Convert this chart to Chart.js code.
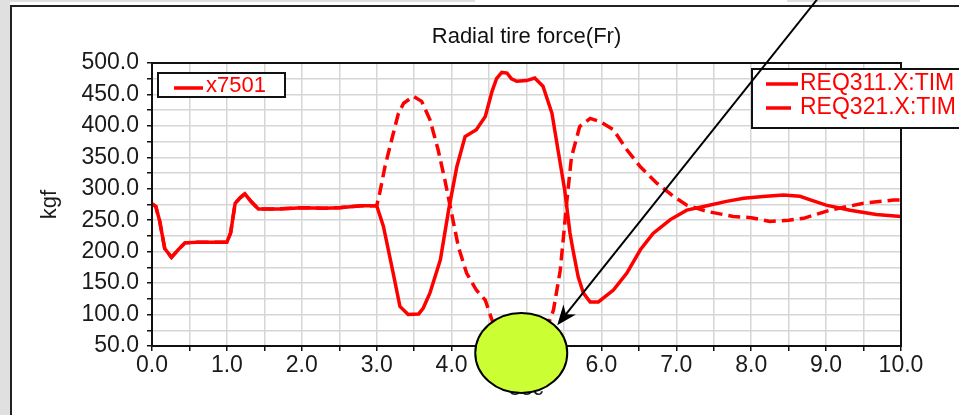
<!DOCTYPE html>
<html>
<head>
<meta charset="utf-8">
<script src="https://cdn.jsdelivr.net/npm/chart.js@4.4.0/dist/chart.umd.min.js"></script>
<style>
  html, body { margin: 0; padding: 0; background: #fff; }
  #wrap { width: 959px; height: 415px; }
</style>
</head>
<body>
<div id="wrap"><canvas id="myChart" width="959" height="415"></canvas></div>
<script>
// values (time in sec, force in kgf)
const chartTitle = 'Radial tire force(Fr)';
const yTitle = 'kgf';
const xTitle = 'sec';
const groupLabel = 'x7501';
const seriesNames = ['REQ311.X:TIM', 'REQ321.X:TIM'];

const t311 = [0.00, 0.05, 0.10, 0.17, 0.26, 0.35, 0.44, 0.60, 0.80, 1.00, 1.05, 1.11, 1.18, 1.24, 1.32, 1.42,
  1.70, 2.00, 2.30, 2.50, 2.80, 3.00, 3.09, 3.22, 3.31, 3.42, 3.56, 3.62, 3.71, 3.85, 3.96, 4.07, 4.18, 4.33,
  4.45, 4.54, 4.60, 4.67, 4.74, 4.80, 4.87, 5.00, 5.11, 5.22, 5.34, 5.42, 5.51, 5.58, 5.62, 5.69, 5.76, 5.85,
  5.96, 6.16, 6.34, 6.52, 6.69, 6.92, 7.14, 7.41, 7.67, 7.90, 8.20, 8.43, 8.65, 8.85, 9.00, 9.32, 9.67, 10.00];
const f311 = [276, 272, 250, 205, 191, 203, 214, 215, 215, 215, 230, 277, 286, 292, 280, 268,
  268, 270, 269, 270, 273, 273, 240, 166, 113, 100, 101, 110, 134, 187, 266, 335, 383, 394,
  415, 455, 475, 485, 484, 475, 471, 472, 476, 463, 420, 362, 298, 230, 203, 160, 134, 120,
  120, 139, 166, 203, 229, 251, 266, 273, 280, 285, 288, 290, 288, 280, 274, 266, 259, 256];

const t321 = [0.00, 0.05, 0.10, 0.17, 0.26, 0.35, 0.44, 0.60, 0.80, 1.00, 1.05, 1.11, 1.18, 1.24, 1.32, 1.42,
  1.70, 2.00, 2.30, 2.50, 2.80, 3.00, 3.04, 3.11, 3.20, 3.29, 3.36, 3.49, 3.60, 3.71, 3.82, 3.91, 4.00, 4.09,
  4.20, 4.33, 4.45, 4.54, 4.65, 4.80, 5.00, 5.20, 5.36, 5.45, 5.49, 5.54, 5.60, 5.71, 5.85, 5.98, 6.16, 6.34,
  6.52, 6.74, 6.96, 7.14, 7.41, 7.76, 8.00, 8.25, 8.50, 8.70, 9.05, 9.50, 9.90, 10.00];
const f321 = [276, 272, 250, 205, 191, 203, 214, 215, 215, 215, 230, 277, 286, 292, 280, 268,
  268, 270, 269, 270, 273, 273, 293, 335, 378, 420, 436, 447, 439, 410, 362, 314, 261, 208,
  166, 139, 123, 91, 60, 42, 40, 55, 107, 170, 219, 282, 350, 399, 412, 407, 394, 362,
  335, 309, 288, 274, 264, 256, 254, 248, 250, 253, 266, 277, 282, 282];

const yTicks = { min: 50, max: 500, step: 25, labelEvery: 50 };
const xTicks = { min: 0, max: 10, step: 0.5, labelEvery: 1 };

const FONT = '"Liberation Sans", Arial, sans-serif';
const RED = '#ff0000';

function toPoints(xs, ys) {
  return xs.map((x, i) => ({ x: x, y: ys[i] }));
}

const decorations = {
  id: 'decorations',
  beforeDraw(chart) {
    const ctx = chart.ctx;
    ctx.save();
    ctx.fillStyle = '#fff';
    ctx.fillRect(0, 0, chart.width, chart.height);
    ctx.fillStyle = '#e0e0e0';
    ctx.fillRect(0, 0, 10, chart.height);
    ctx.fillRect(10, 0, 465, 2);
    ctx.fillRect(787, 0, 133, 2);
    ctx.strokeStyle = '#222';
    ctx.lineWidth = 2;
    ctx.beginPath();
    ctx.moveTo(11, chart.height);
    ctx.lineTo(11, 6);
    ctx.lineTo(chart.width, 6);
    ctx.stroke();
    ctx.restore();
  },
  afterDraw(chart) {
    const ctx = chart.ctx;
    const a = chart.chartArea;
    const xs = chart.scales.x, ys = chart.scales.y;
    ctx.save();

    // plot frame
    ctx.strokeStyle = '#111';
    ctx.lineWidth = 2;
    ctx.strokeRect(a.left, a.top, a.right - a.left, a.bottom - a.top);

    // title
    ctx.fillStyle = '#111';
    ctx.font = '22px ' + FONT;
    ctx.textAlign = 'center';
    ctx.textBaseline = 'middle';
    ctx.fillText(chartTitle, (a.left + a.right) / 2, 37);

    // left legend box
    ctx.fillStyle = '#fff';
    ctx.fillRect(a.left + 6, a.top + 10, 127, 24);
    ctx.strokeStyle = '#111';
    ctx.strokeRect(a.left + 6, a.top + 10, 127, 24);
    ctx.strokeStyle = RED;
    ctx.lineWidth = 3.5;
    ctx.beginPath();
    ctx.moveTo(a.left + 22, a.top + 25);
    ctx.lineTo(a.left + 51, a.top + 25);
    ctx.stroke();
    ctx.fillStyle = RED;
    ctx.font = '22px ' + FONT;
    ctx.textAlign = 'left';
    ctx.fillText(groupLabel, a.left + 54, a.top + 23);

    // right legend box
    const bx = a.right - 149, by = a.top + 6;
    ctx.fillStyle = '#fff';
    ctx.fillRect(bx, by, 230, 59);
    ctx.strokeStyle = '#111';
    ctx.lineWidth = 2;
    ctx.strokeRect(bx, by, 230, 59);
    ctx.lineWidth = 3.5;
    ctx.strokeStyle = RED;
    ctx.fillStyle = RED;
    ctx.font = '23px ' + FONT;
    chart.data.datasets.forEach((ds, i) => {
      const ly = by + 15 + i * 24;
      ctx.beginPath();
      ctx.moveTo(bx + 14, ly);
      ctx.lineTo(bx + (i === 0 ? 46 : 39), ly);
      ctx.stroke();
      ctx.fillText(ds.label, bx + 48, ly);
    });

    // annotation: ellipse and arrow
    const cx = xs.getPixelForValue(4.93), cy = ys.getPixelForValue(39);
    ctx.beginPath();
    ctx.ellipse(cx, cy, 46, 40, 0, 0, Math.PI * 2);
    ctx.fillStyle = '#ccff33';
    ctx.fill();
    ctx.strokeStyle = '#000';
    ctx.lineWidth = 2;
    ctx.stroke();

    const x0 = xs.getPixelForValue(8.88), y0 = ys.getPixelForValue(601);
    const x1 = xs.getPixelForValue(5.41), y1 = ys.getPixelForValue(83);
    const ang = Math.atan2(y1 - y0, x1 - x0);
    ctx.beginPath();
    ctx.moveTo(x0, y0);
    ctx.lineTo(x1 - 10 * Math.cos(ang), y1 - 10 * Math.sin(ang));
    ctx.stroke();
    ctx.beginPath();
    ctx.moveTo(x1, y1);
    ctx.lineTo(x1 - 20 * Math.cos(ang) + 8 * Math.sin(ang), y1 - 20 * Math.sin(ang) - 8 * Math.cos(ang));
    ctx.lineTo(x1 - 14 * Math.cos(ang), y1 - 14 * Math.sin(ang));
    ctx.lineTo(x1 - 20 * Math.cos(ang) - 8 * Math.sin(ang), y1 - 20 * Math.sin(ang) + 8 * Math.cos(ang));
    ctx.closePath();
    ctx.fillStyle = '#000';
    ctx.fill();
    ctx.restore();
  }
};

const ctx = document.getElementById('myChart').getContext('2d');
const myChart = new Chart(ctx, {
  type: 'line',
  data: {
    datasets: [
      {
        label: seriesNames[0],
        data: toPoints(t311, f311),
        borderColor: RED,
        borderWidth: 3.5,
        pointRadius: 0,
        tension: 0,
        fill: false
      },
      {
        label: seriesNames[1],
        data: toPoints(t321, f321),
        borderColor: RED,
        borderWidth: 3.5,
        borderDash: [12, 6],
        pointRadius: 0,
        tension: 0,
        fill: false
      }
    ]
  },
  options: {
    responsive: false,
    animation: false,
    layout: { padding: { left: 0, top: 63, right: 58, bottom: 0 } },
    plugins: {
      legend: { display: false },
      tooltip: { enabled: false }
    },
    scales: {
      x: {
        type: 'linear',
        min: xTicks.min,
        max: xTicks.max,
        afterFit(scale) { scale.height = 69; },
        border: { color: '#111', width: 2 },
        grid: { color: '#d6d6d6', lineWidth: 1.5, tickLength: 5, tickColor: '#111' },
        ticks: {
          stepSize: xTicks.step,
          autoSkip: false,
          maxRotation: 0,
          padding: 1,
          color: '#1a1a1a',
          font: { family: FONT, size: 23 },
          callback: v => (Math.abs(v % xTicks.labelEvery) < 1e-6 ? v.toFixed(1) : '')
        },
        title: {
          display: true,
          text: xTitle,
          color: '#1a1a1a',
          font: { family: FONT, size: 22 },
          padding: { top: 0, bottom: 13 }
        }
      },
      y: {
        min: yTicks.min,
        max: yTicks.max,
        afterFit(scale) { scale.width = 152; },
        border: { color: '#111', width: 2 },
        grid: { color: '#d6d6d6', lineWidth: 1.5, tickLength: 5, tickColor: '#111' },
        ticks: {
          stepSize: yTicks.step,
          autoSkip: false,
          padding: 8,
          color: '#1a1a1a',
          font: { family: FONT, size: 23 },
          callback: v => (v % yTicks.labelEvery === 0 ? v.toFixed(1) : '')
        },
        title: {
          display: true,
          text: yTitle,
          color: '#1a1a1a',
          font: { family: FONT, size: 22 },
          padding: { top: 37, bottom: 0 }
        }
      }
    }
  },
  plugins: [decorations]
});
</script>
</body>
</html>
